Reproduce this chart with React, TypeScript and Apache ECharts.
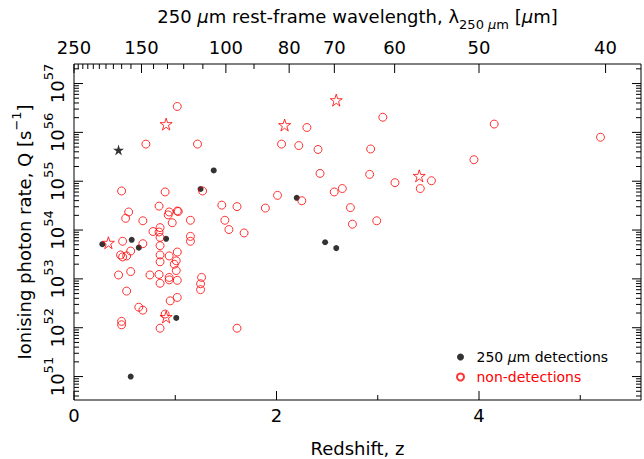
import React, { useEffect, useRef } from 'react';
import * as echarts from 'echarts';

const FONT = '"DejaVu Sans", "Liberation Sans", sans-serif';

// ---- data: redshift z and log10 of ionising photon rate Q [s^-1]
const nonDetZ = [
  1.02, 0.71, 1.22, 1.27, 0.47, 0.90, 0.84, 1.46, 1.61, 0.54,
  0.94, 0.93, 1.02, 1.03, 0.51, 0.68, 0.97, 1.15, 1.49, 1.53,
  1.68, 0.85, 0.78, 0.84, 0.85, 1.15, 1.15, 0.48, 0.68, 0.85,
  0.56, 1.02, 0.46, 0.48, 0.52, 0.85, 0.94, 1.01, 0.85, 0.99,
  1.01, 0.56, 0.44, 0.75, 0.84, 0.94, 0.94, 1.02, 0.85, 1.26,
  1.25, 1.25, 0.52, 1.02, 0.95, 0.64, 0.68, 0.90, 0.47, 0.47,
  0.85, 1.61, 3.05, 2.30, 2.05, 2.22, 2.41, 2.93, 2.43, 2.92,
  3.17, 2.65, 2.57, 2.01, 2.25, 1.89, 2.73, 2.75, 2.99, 4.15,
  5.20, 3.95, 3.53, 3.42,
];
const nonDetLogQ = [
  56.53, 55.76, 55.76, 54.80, 54.80, 54.78, 54.49, 54.51, 54.48, 54.37,
  54.37, 54.31, 54.39, 54.38, 54.24, 54.19, 54.15, 54.20, 54.20, 54.01,
  53.94, 54.05, 53.97, 53.96, 53.85, 53.87, 53.77, 53.77, 53.72, 53.68,
  53.57, 53.55, 53.49, 53.45, 53.47, 53.49, 53.47, 53.37, 53.35, 53.30,
  53.17, 53.15, 53.08, 53.08, 53.09, 53.03, 52.98, 52.97, 52.91, 53.03,
  52.90, 52.78, 52.75, 52.62, 52.55, 52.42, 52.36, 52.28, 52.13, 52.06,
  51.99, 51.99, 56.31, 56.10, 55.76, 55.73, 55.65, 55.66, 55.16, 55.14,
  54.97, 54.85, 54.78, 54.71, 54.60, 54.45, 54.46, 54.12, 54.19, 56.17,
  55.90, 55.44, 55.01, 54.85,
];
const detZ = [1.38, 1.25, 2.20, 0.91, 0.57, 0.28, 0.64, 2.48, 2.59, 1.01, 0.56];
const detLogQ = [55.22, 54.84, 54.66, 53.82, 53.80, 53.71, 53.64, 53.75, 53.63, 52.20, 51.00];
const detStarZ = [0.44];
const detStarLogQ = [55.64];
const nonDetStarZ = [0.91, 0.34, 0.91, 2.59, 2.08, 3.41];
const nonDetStarLogQ = [56.17, 53.74, 52.22, 56.66, 56.15, 55.11];

// ---- axes / ticks
const zMajorTicks = [0, 2, 4];
const zMinorTicks = [1, 3, 5];
const lambdaMajorTicks = [250, 150, 100, 80, 70, 60, 50, 40];
const lambdaMinorTicks = [240, 230, 220, 210, 200, 190, 180, 170, 160, 140, 130, 120, 110, 90];
const qDecades = [51, 52, 53, 54, 55, 56, 57];
const qMinorMultipliers = [2, 3, 4, 5, 6, 7, 8, 9];

const Z_MIN = 0;
const Z_MAX = 5.6;
const Q_MIN = Math.pow(10, 50.52);
const Q_MAX = Math.pow(10, 57.4);
const Q_REF = 1e54;

const DET = '250 μm detections';
const NONDET = 'non-detections';
const STAR = 'path://M50 0L61.2 34.5H97.6L68.2 55.9L79.4 90.5L50 69.1L20.6 90.5L31.8 55.9L2.4 34.5H38.8Z';

const pts = (zs: number[], lq: number[]) => zs.map((z, i) => [z, Math.pow(10, lq[i])]);

const lineStyle = { stroke: '#000', lineWidth: 1 };

function buildOption() {
  const yTickData: number[][] = [];
  qDecades.forEach((e) => yTickData.push([Z_MIN, Math.pow(10, e), 1]));
  [qDecades[0] - 1, ...qDecades].forEach((e) => {
    qMinorMultipliers.forEach((m) => {
      const v = m * Math.pow(10, e);
      if (v > Q_MIN && v < Q_MAX) yTickData.push([Z_MIN, v, 0]);
    });
  });
  const xTickData = [
    ...zMajorTicks.map((z) => [z, Q_REF, 1]),
    ...zMinorTicks.map((z) => [z, Q_REF, 0]),
  ];
  const topTickData = [
    ...lambdaMajorTicks.map((l) => [250 / l - 1, Q_REF, 1, l]),
    ...lambdaMinorTicks.map((l) => [250 / l - 1, Q_REF, 0, l]),
  ];

  const richMain = (va: string) => ({ fontSize: 18, fontFamily: FONT, lineHeight: 24, verticalAlign: va, color: '#000' });
  const richSmall = (va: string) => ({ fontSize: 13, fontFamily: FONT, lineHeight: 13, verticalAlign: va, color: '#000' });

  return {
    animation: false,
    backgroundColor: '#fff',
    grid: {
      left: 74, right: 3, top: 64, bottom: 59,
      show: true, borderColor: '#000', borderWidth: 1, backgroundColor: 'transparent',
      outerBoundsMode: 'none',
    },
    xAxis: {
      type: 'value', min: Z_MIN, max: Z_MAX, interval: 2,
      axisLine: { show: false }, axisTick: { show: false }, splitLine: { show: false },
      axisLabel: {
        showMaxLabel: false, margin: 6, fontSize: 18, fontFamily: FONT, color: '#000',
        formatter: (v: number) => (zMajorTicks.indexOf(v) >= 0 ? String(v) : ''),
      },
    },
    yAxis: {
      type: 'log', logBase: 10, min: Q_MIN, max: Q_MAX,
      axisLine: { show: false }, axisTick: { show: false }, splitLine: { show: false },
      axisLabel: {
        rotate: 90, margin: 8, showMinLabel: false, showMaxLabel: false,
        formatter: (v: number) => {
          const e = Math.log10(v);
          const r = Math.round(e);
          return Math.abs(e - r) < 1e-6 && qDecades.indexOf(r) >= 0 ? `{b|10}{s|${r}}` : '';
        },
        rich: { b: richMain('bottom'), s: richSmall('top') },
      },
    },
    legend: {
      orient: 'vertical', left: 451, top: 345, itemWidth: 22, itemHeight: 7, itemGap: 6,
      selectedMode: false,
      data: [
        { name: DET, textStyle: { color: '#000' } },
        { name: NONDET, textStyle: { color: '#ff0000' } },
      ],
      formatter: (name: string) => (name === DET ? '{t|250 }{i|μ}{t|m detections}' : '{t|non-detections}'),
      textStyle: {
        fontFamily: FONT, fontSize: 14,
        rich: {
          t: { fontFamily: FONT, fontSize: 14 },
          i: { fontFamily: FONT, fontSize: 14, fontStyle: 'italic' },
        },
      },
    },
    graphic: [
      {
        type: 'text', x: 357.5, y: 19,
        style: {
          text: '{n|250 }{ni|μ}{n|m rest-frame wavelength, λ}{sb|250 }{sbi|μ}{sb|m}{n| [}{ni|μ}{n|m]}',
          rich: {
            n: richMain('top'), ni: { ...richMain('top'), fontStyle: 'italic' },
            sb: richSmall('bottom'), sbi: { ...richSmall('bottom'), fontStyle: 'italic' },
          },
          align: 'center', verticalAlign: 'middle', textAlign: 'center', textVerticalAlign: 'middle',
          font: `18px ${FONT}`, fill: '#000',
        },
      },
      {
        type: 'text', x: 21.5, y: 232, rotation: Math.PI / 2,
        style: {
          text: '{n|Ionising photon rate, Q [s}{sp|−1}{n|]}',
          rich: { n: richMain('bottom'), sp: richSmall('top') },
          align: 'center', verticalAlign: 'middle', textAlign: 'center', textVerticalAlign: 'middle',
          font: `18px ${FONT}`, fill: '#000',
        },
      },
      {
        type: 'text', x: 357.5, y: 448,
        style: {
          text: 'Redshift, z', font: `18px ${FONT}`, fill: '#000',
          align: 'center', verticalAlign: 'middle', textAlign: 'center', textVerticalAlign: 'middle',
        },
      },
    ],
    series: [
      {
        name: DET, type: 'scatter', data: pts(detZ, detLogQ), symbol: 'circle', symbolSize: 6,
        itemStyle: { color: '#000' }, z: 3,
      },
      {
        name: NONDET, type: 'scatter', data: pts(nonDetZ, nonDetLogQ), symbol: 'circle', symbolSize: 8,
        itemStyle: { color: 'transparent', borderColor: '#ff0000', borderWidth: 1 }, z: 4,
      },
      {
        name: 'detStar', type: 'scatter', data: pts(detStarZ, detStarLogQ), symbol: STAR, symbolSize: 11,
        itemStyle: { color: '#000' }, z: 4,
      },
      {
        name: 'nonDetStar', type: 'scatter', data: pts(nonDetStarZ, nonDetStarLogQ), symbol: STAR, symbolSize: 12,
        itemStyle: { color: 'transparent', borderColor: '#ff0000', borderWidth: 1 }, z: 4,
      },
      {
        name: 'yTicks', type: 'custom', silent: true, z: 5, data: yTickData,
        renderItem: (params: any, api: any) => {
          const cs = params.coordSys;
          const y = api.coord([Z_MIN, api.value(1)])[1];
          const len = api.value(2) ? 9 : 5;
          return {
            type: 'group',
            children: [
              { type: 'line', shape: { x1: cs.x, y1: y, x2: cs.x + len, y2: y }, style: lineStyle },
              { type: 'line', shape: { x1: cs.x + cs.width, y1: y, x2: cs.x + cs.width - len, y2: y }, style: lineStyle },
            ],
          };
        },
      },
      {
        name: 'xTicks', type: 'custom', silent: true, z: 5, data: xTickData,
        renderItem: (params: any, api: any) => {
          const cs = params.coordSys;
          const x = api.coord([api.value(0), Q_REF])[0];
          const len = api.value(2) ? 9 : 5;
          const yb = cs.y + cs.height;
          return { type: 'line', shape: { x1: x, y1: yb, x2: x, y2: yb - len }, style: lineStyle };
        },
      },
      {
        name: 'topTicks', type: 'custom', silent: true, z: 5, data: topTickData,
        renderItem: (params: any, api: any) => {
          const cs = params.coordSys;
          const x = api.coord([api.value(0), Q_REF])[0];
          const major = api.value(2) === 1;
          const len = major ? 9 : 5;
          const children: any[] = [
            { type: 'line', shape: { x1: x, y1: cs.y, x2: x, y2: cs.y + len }, style: lineStyle },
          ];
          if (major) {
            children.push({
              type: 'text', x, y: cs.y - 17,
              style: {
                text: String(api.value(3)), font: `18px ${FONT}`, fill: '#000',
                align: 'center', verticalAlign: 'middle',
              },
            });
          }
          return { type: 'group', children };
        },
      },
    ],
  };
}

export default function App() {
  const ref = useRef<HTMLDivElement>(null);
  useEffect(() => {
    const chart = echarts.init(ref.current!, null, { renderer: 'svg' });
    chart.setOption(buildOption() as any);
    return () => chart.dispose();
  }, []);
  return (
    <div
      ref={ref}
      style={{ position: 'fixed', left: 0, top: 0, width: 644, height: 459, background: '#fff' }}
    />
  );
}
